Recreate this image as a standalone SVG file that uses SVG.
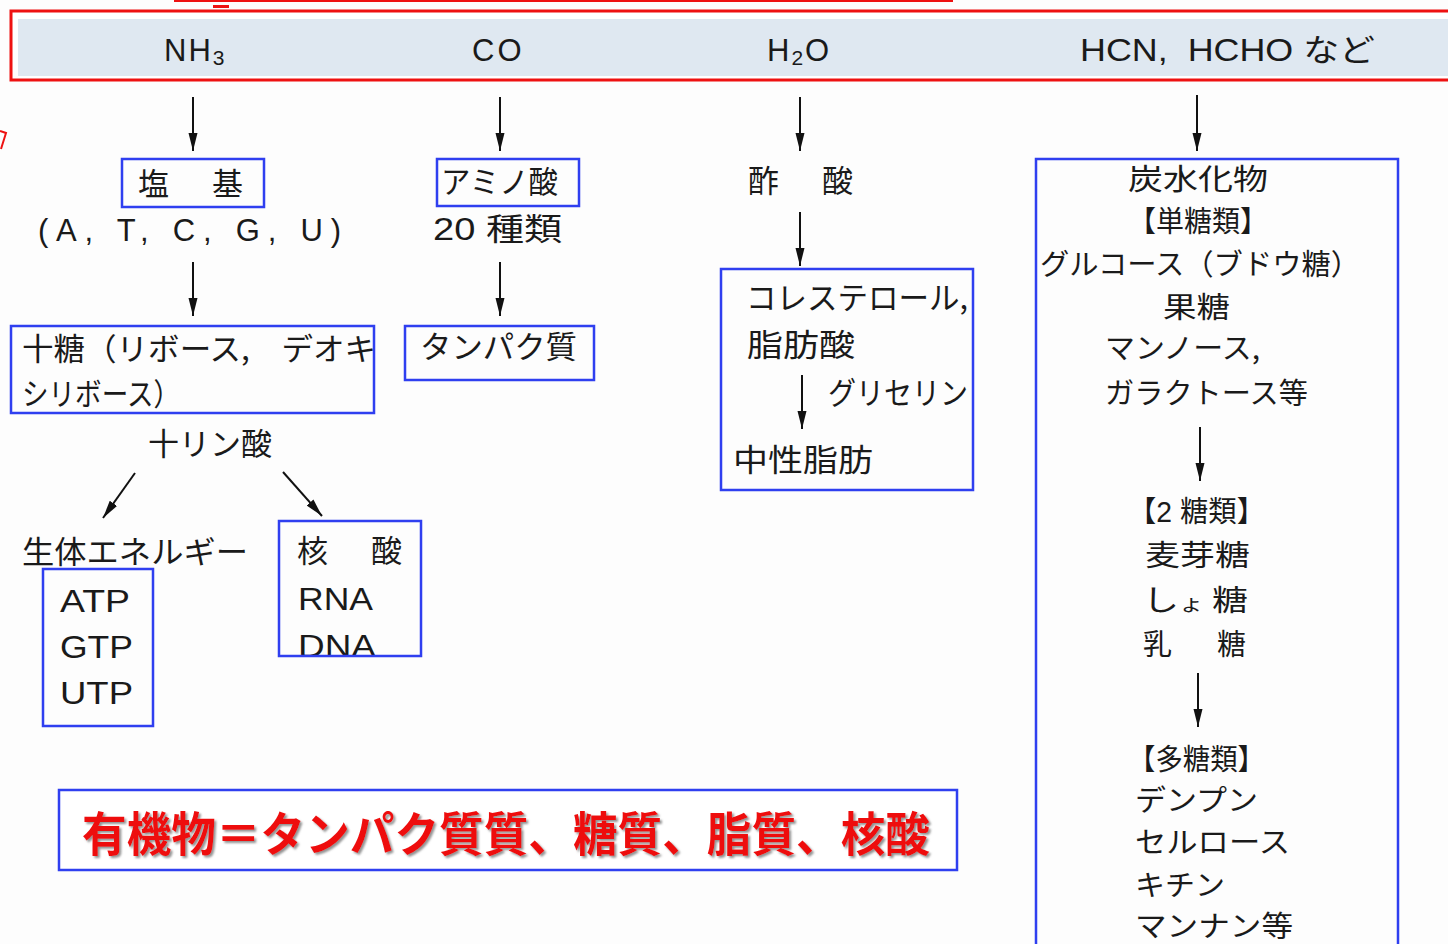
<svg xmlns="http://www.w3.org/2000/svg" width="1448" height="944" viewBox="0 0 1448 944">
<defs>
<marker id="ah" markerUnits="userSpaceOnUse" viewBox="0 0 18 10" refX="18" refY="5" markerWidth="18" markerHeight="10" orient="auto">
<path d="M0,0.5 L18,5 L0,9.5 z" fill="#111"/>
</marker>
<filter id="sh" x="-5%" y="-20%" width="110%" height="140%">
<feDropShadow dx="2" dy="2" stdDeviation="1" flood-color="#777" flood-opacity="0.8"/>
</filter>
</defs>
<style>
.t{font-family:"Noto Sans CJK JP","Liberation Sans",sans-serif;font-size:31px;fill:#1a1a1a}
.l{font-family:"Liberation Sans","Noto Sans CJK JP",sans-serif;font-size:31px;fill:#1a1a1a}
.c{font-size:29px}
.b{fill:none;stroke:#2f3ff0;stroke-width:2.5}
.a{stroke:#111;stroke-width:2;fill:none;marker-end:url(#ah)}
</style>
<rect width="1448" height="944" fill="#fdfdfd"/>
<!-- stray red marks -->
<rect x="174" y="0" width="779" height="2" fill="#ee1111"/>
<rect x="213" y="5" width="16" height="3" fill="#ee1111"/>
<polyline points="0,131 6,133 1,149" fill="none" stroke="#ee1111" stroke-width="2"/>

<g id="header">
<rect x="11" y="11" width="1450" height="69" fill="#ffffff" stroke="#ee1111" stroke-width="3"/>
<rect x="18" y="19" width="1430" height="57" fill="#dfe8f1"/>
<text class="l" x="164" y="61" font-size="32" letter-spacing="2">NH<tspan font-size="21" dy="4">3</tspan></text>
<text class="l" x="472" y="61" font-size="32" letter-spacing="3">CO</text>
<text class="l" x="767" y="61" font-size="32" letter-spacing="2">H<tspan font-size="21" dy="4">2</tspan><tspan dy="-4">O</tspan></text>
<text class="l" x="1080" y="61" font-size="32" textLength="295" lengthAdjust="spacingAndGlyphs">HCN,&#160;&#160;HCHO <tspan font-family="Noto Sans CJK JP">など</tspan></text>
</g>

<g id="connectors">
<line class="a" x1="193" y1="97" x2="193" y2="151"/>
<line class="a" x1="500" y1="97" x2="500" y2="151"/>
<line class="a" x1="800" y1="97" x2="800" y2="151"/>
<line class="a" x1="1197" y1="95" x2="1197" y2="151"/>
<line class="a" x1="193" y1="262" x2="193" y2="316"/>
<line class="a" x1="500" y1="262" x2="500" y2="316"/>
<line class="a" x1="800" y1="212" x2="800" y2="266"/>
<line class="a" x1="802" y1="375" x2="802" y2="429"/>
<line class="a" x1="135" y1="473" x2="103" y2="518"/>
<line class="a" x1="283" y1="472" x2="322" y2="516"/>
<line class="a" x1="1200" y1="427" x2="1200" y2="481"/>
<line class="a" x1="1198" y1="673" x2="1198" y2="727"/>
</g>

<g id="base">
<rect class="b" x="122" y="159" width="142" height="48"/>
<text class="t" x="138" y="195">塩</text>
<text class="t" x="212" y="195">基</text>
<text class="l" x="38" y="241" textLength="303" lengthAdjust="spacing">(A,  T,  C,  G,  U)</text>
</g>

<g id="sugar">
<rect class="b" x="11" y="326" width="363" height="87"/>
<text class="t" x="22" y="360" textLength="354" lengthAdjust="spacingAndGlyphs">十糖（リボース,　デオキ</text>
<text class="t" x="22" y="405" textLength="158" lengthAdjust="spacingAndGlyphs">シリボース）</text>
</g>

<g id="phosphate">
<text class="t" x="148" y="455" textLength="124" lengthAdjust="spacingAndGlyphs">十リン酸</text>
</g>

<g id="energy">
<text class="t" x="22" y="563" textLength="226" lengthAdjust="spacingAndGlyphs">生体エネルギー</text>
<rect class="b" x="43" y="569" width="110" height="157"/>
<text class="l" x="60" y="612" textLength="70" lengthAdjust="spacingAndGlyphs">ATP</text>
<text class="l" x="60" y="658" textLength="73" lengthAdjust="spacingAndGlyphs">GTP</text>
<text class="l" x="60" y="704" textLength="73" lengthAdjust="spacingAndGlyphs">UTP</text>
</g>

<g id="nucleic">
<text class="t" x="297" y="562">核</text>
<text class="t" x="371" y="562">酸</text>
<text class="l" x="298" y="610" textLength="75" lengthAdjust="spacingAndGlyphs">RNA</text>
<text class="l" x="298" y="657" textLength="78" lengthAdjust="spacingAndGlyphs">DNA</text>
<rect class="b" x="279" y="521" width="142" height="135" fill="none"/>
</g>

<g id="amino">
<rect class="b" x="437" y="159" width="142" height="47"/>
<text class="t" x="441" y="193" textLength="117" lengthAdjust="spacingAndGlyphs">アミノ酸</text>
<text class="t" x="433" y="240" textLength="129" lengthAdjust="spacingAndGlyphs"><tspan font-family="Liberation Sans">20 </tspan>種類</text>
</g>

<g id="protein">
<rect class="b" x="405" y="326" width="189" height="54"/>
<text class="t" x="420" y="358" textLength="157" lengthAdjust="spacingAndGlyphs">タンパク質</text>
</g>

<g id="acetic">
<text class="t" x="748" y="192">酢</text>
<text class="t" x="822" y="192">酸</text>
</g>

<g id="lipid">
<rect class="b" x="721" y="269" width="252" height="221"/>
<text class="t" x="746" y="309" textLength="222" lengthAdjust="spacingAndGlyphs">コレステロール,</text>
<text class="t" x="747" y="356" textLength="108" lengthAdjust="spacingAndGlyphs">脂肪酸</text>
<text class="t" x="828" y="404" textLength="140" lengthAdjust="spacingAndGlyphs">グリセリン</text>
<text class="t" x="733" y="471" textLength="140" lengthAdjust="spacingAndGlyphs">中性脂肪</text>
</g>

<g id="carbohydrate">
<rect class="b" x="1036" y="159" width="362" height="800"/>
<text class="t c" x="1128" y="190" textLength="140" lengthAdjust="spacingAndGlyphs">炭水化物</text>
<text class="t c" x="1128" y="232" textLength="140" lengthAdjust="spacingAndGlyphs">【単糖類】</text>
<text class="t c" x="1040" y="275" textLength="320" lengthAdjust="spacingAndGlyphs">グルコース（ブドウ糖）</text>
<text class="t c" x="1163" y="318" textLength="67" lengthAdjust="spacingAndGlyphs">果糖</text>
<text class="t c" x="1105" y="359" textLength="155" lengthAdjust="spacingAndGlyphs">マンノース,</text>
<text class="t c" x="1105" y="404" textLength="203" lengthAdjust="spacingAndGlyphs">ガラクトース等</text>
<text class="t c" x="1128" y="522" textLength="137" lengthAdjust="spacingAndGlyphs">【<tspan font-family="Liberation Sans">2 </tspan>糖類】</text>
<text class="t c" x="1145" y="566" textLength="105" lengthAdjust="spacingAndGlyphs">麦芽糖</text>
<text class="t c" x="1143" y="611" textLength="105" lengthAdjust="spacingAndGlyphs">し<tspan font-size="20">ょ</tspan> 糖</text>
<text class="t c" x="1143" y="655">乳</text>
<text class="t c" x="1217" y="655">糖</text>
<text class="t c" x="1128" y="770" textLength="137" lengthAdjust="spacingAndGlyphs">【多糖類】</text>
<text class="t c" x="1135" y="811" textLength="123" lengthAdjust="spacingAndGlyphs">デンプン</text>
<text class="t c" x="1135" y="853" textLength="155" lengthAdjust="spacingAndGlyphs">セルロース</text>
<text class="t c" x="1135" y="896" textLength="90" lengthAdjust="spacingAndGlyphs">キチン</text>
<text class="t c" x="1135" y="937" textLength="158" lengthAdjust="spacingAndGlyphs">マンナン等</text>
</g>

<g id="summary">
<rect x="59" y="790" width="898" height="80" fill="#ffffff" stroke="#2f3ff0" stroke-width="2.5"/>
<text x="82" y="851" font-family="Noto Sans CJK JP, sans-serif" font-weight="bold" font-size="47" fill="#ee1111" textLength="848" lengthAdjust="spacingAndGlyphs" filter="url(#sh)">有機物＝タンパク質質、糖質、脂質、核酸</text>
</g>
</svg>
